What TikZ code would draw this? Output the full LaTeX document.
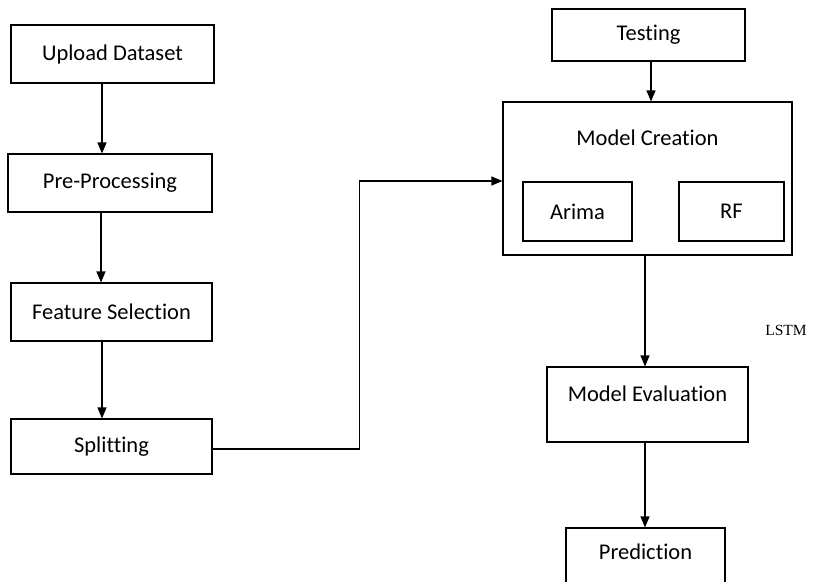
\documentclass[tikz,border=0pt]{standalone}
\usepackage{fontspec}
\setmainfont{Carlito}[Ligatures=CommonOff]
\newfontfamily\lstmfont{Liberation Serif}
\usetikzlibrary{arrows.meta}
\tikzset{
  box/.style={draw, line width=1.1pt, inner sep=0pt, font=\fontsize{22.5}{27}\selectfont},
  title/.style={inner sep=0pt, font=\fontsize{22.5}{27}\selectfont},
  flow/.style={->, line width=1.1pt},
}
\begin{document}
\begin{tikzpicture}[x=1pt, y=-1pt, >={Triangle[length=11pt,width=9pt]}]
\clip (0,0) rectangle (818,581);
% left column
\node[box, minimum width=203pt, minimum height=58pt] (upload) at (112.5,54) {Upload Dataset};
\node[box, minimum width=204pt, minimum height=58pt] (prep) at (110,183) {Pre-Processing};
\node[box, minimum width=201pt, minimum height=58pt] (feat) at (111.5,312) {Feature Selection};
\node[box, minimum width=201pt, minimum height=55pt] (split) at (111.5,446.5) {Splitting};

% right column
\node[box, minimum width=193pt, minimum height=52pt] (test) at (648.5,35) {Testing};
\node[box, minimum width=289pt, minimum height=153pt] (create) at (647.5,178.5) {};
\node[title] (createtext) at (647.5,138) {Model Creation};
\node[box, minimum width=109pt, minimum height=59pt] (arima) at (577.5,211.5) {Arima};
\node[box, minimum width=105pt, minimum height=59pt] (rf) at (731.5,211.5) {RF};
\node[box, minimum width=201pt, minimum height=75pt] (eval) at (647.5,404.5) {};
\node[title] (evaltext) at (647.5,394) {Model Evaluation};
\node[box, minimum width=159pt, minimum height=74pt] (pred) at (645.5,565) {};
\node[title] (predtext) at (645.5,552) {Prediction};
\node[inner sep=0pt, font=\lstmfont\fontsize{15.5}{18}\selectfont] (lstm) at (786,330) {LSTM};

% connectors
\draw[flow] ([xshift=-10.5pt]upload.south) -- ([xshift=-8pt]prep.north);
\draw[flow] ([xshift=-9pt]prep.south) -- ([xshift=-10.5pt]feat.north);
\draw[flow] ([xshift=-9.5pt]feat.south) -- ([xshift=-9.5pt]split.north);
\draw[flow] ([yshift=-2.5pt]split.east) -- ++(147,0) |- ([yshift=-2.5pt]create.west);
\draw[flow] ([xshift=2.5pt]test.south) -- ([xshift=3.5pt]create.north);
\draw[flow] ([xshift=-2.5pt]create.south) -- ([xshift=-2.5pt]eval.north);
\draw[flow] ([xshift=-2.5pt]eval.south) -- ([xshift=-0.5pt]pred.north);
\end{tikzpicture}
\end{document}
